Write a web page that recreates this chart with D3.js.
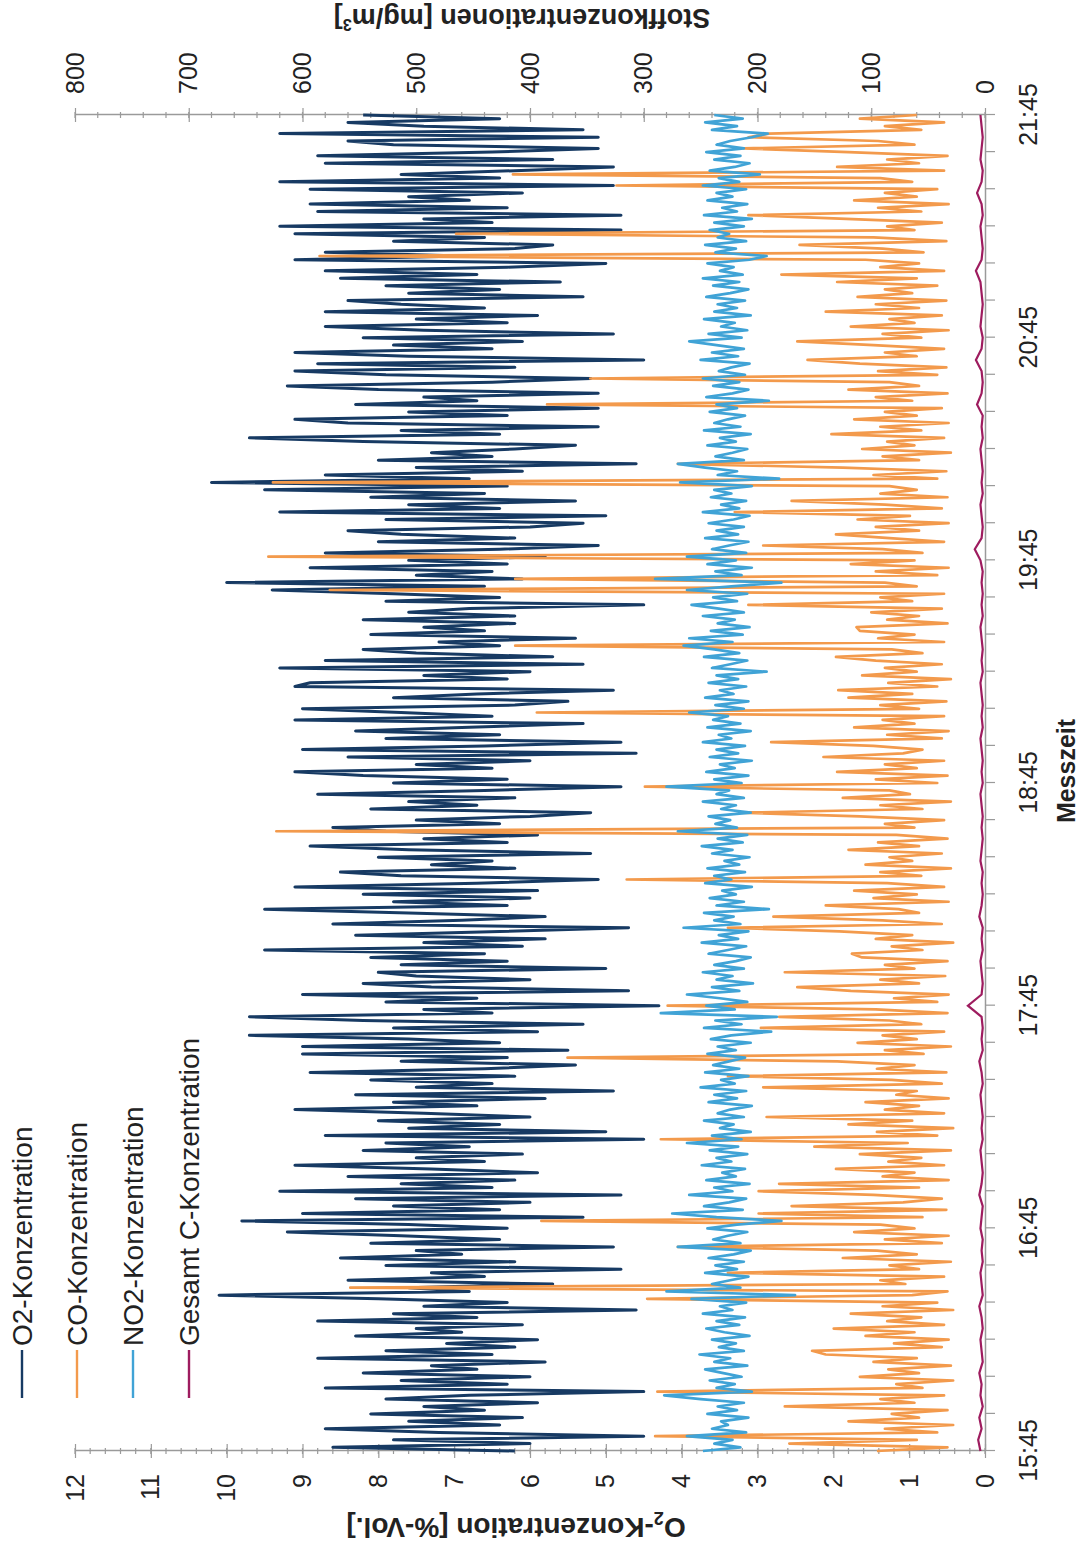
<!DOCTYPE html>
<html>
<head>
<meta charset="utf-8">
<script src="https://cdn.jsdelivr.net/npm/d3@7"></script>
<style>
  body { margin: 0; background: #fff; }
  text { font-family: "Liberation Sans", Arial, sans-serif; fill: #222; }
</style>
</head>
<body>
<svg id="chart" width="1083" height="1546"></svg>
<script>
// measurement start and sampling step (one value per minute)
const startTime = "15:45";
const endTime = "21:45";
const stepMinutes = 1;
const cStepMinutes = 3;

// O2 in %-Vol. (left axis)
const o2Values = [
  6.2,8.6,6.0,7.8,4.5,7.2,8.7,6.4,7.6,6.1,
  8.1,6.6,7.4,5.9,7.9,6.8,4.5,8.7,6.3,7.7,
  6.0,8.2,6.7,7.3,5.8,8.8,6.5,7.9,6.2,7.1,
  5.9,8.3,6.9,7.5,6.1,8.8,6.7,7.8,4.6,7.4,
  6.3,8.0,10.1,6.8,7.6,5.7,8.4,6.6,7.3,4.8,
  7.9,6.2,8.5,6.9,7.5,4.9,8.1,6.4,7.7,9.2,
  6.3,7.6,9.8,5.3,9.0,6.4,7.8,6.0,8.3,4.8,
  9.3,6.5,7.7,6.2,8.4,5.9,7.3,9.1,6.6,7.5,
  6.1,8.2,6.8,7.9,4.5,8.7,5.0,7.6,6.4,8.0,
  6.0,7.4,9.1,6.7,7.8,5.8,8.3,4.9,7.5,6.5,
  8.1,6.2,8.9,6.6,5.4,7.7,6.3,9.0,5.5,9.0,
  6.4,7.6,9.7,5.9,7.8,5.3,8.2,9.7,6.5,7.4,
  4.3,7.9,6.7,9.0,4.7,7.3,8.2,6.0,7.5,8.0,
  5.0,7.7,6.3,8.1,6.6,9.5,6.1,7.4,5.8,8.3,
  6.4,4.7,8.6,6.9,5.8,7.6,9.5,6.3,7.8,6.0,
  8.2,5.9,9.1,6.7,5.1,7.7,8.5,6.2,7.3,6.5,
  8.0,5.2,7.6,8.9,6.3,7.4,5.9,7.9,8.6,6.4,
  7.5,6.0,5.2,8.1,6.7,7.6,6.2,8.8,6.6,4.8,
  7.8,6.3,8.2,9.1,6.5,7.5,6.0,8.4,4.6,9.0,
  6.6,4.8,7.9,6.4,8.3,6.8,5.3,9.1,6.5,7.7,
  9.0,6.2,5.5,7.8,6.7,4.9,9.1,8.9,6.3,7.4,
  6.0,9.3,5.3,8.7,5.7,7.5,8.2,6.4,7.2,5.4,
  8.1,6.6,7.4,6.2,8.2,6.2,7.6,6.8,4.5,7.9,
  6.4,7.8,9.4,6.6,10.0,6.1,7.5,6.5,8.9,6.3,
  7.6,5.8,8.7,6.4,5.1,8.0,6.2,7.7,8.4,6.0,
  5.3,7.9,5.0,9.3,6.4,7.6,5.4,8.1,6.6,9.5,
  6.3,10.2,6.8,8.7,6.1,7.5,4.6,8.0,6.5,7.3,
  6.2,5.4,8.2,9.7,6.4,7.7,5.1,8.4,9.1,6.3,
  7.6,5.1,8.3,6.7,7.4,5.1,8.0,9.2,6.5,5.2,
  7.9,9.1,6.2,8.8,4.5,7.6,9.1,6.5,7.8,6.1,
  8.2,4.9,7.4,8.7,6.3,7.5,5.9,8.7,6.6,7.7,
  8.4,5.3,7.6,6.4,7.9,5.6,8.5,6.7,8.7,6.3,
  5.0,9.1,6.9,8.7,6.2,5.7,7.8,6.6,9.1,4.8,
  9.3,6.5,7.4,4.8,8.8,6.3,8.9,6.8,7.6,6.1,
  8.9,4.9,9.3,6.4,7.7,6.2,4.9,8.7,5.7,8.8,
  6.5,5.1,7.8,8.4,5.1,9.3,5.3,7.4,8.4,6.4,
  8.2
];

// CO in mg/m3 (right axis)
const coValues = [
  95,33,172,60,290,42,88,28,120,58,
  82,33,176,62,92,36,288,55,78,28,
  110,58,85,30,98,60,140,152,38,80,
  32,105,62,133,36,86,56,118,28,90,
  42,297,64,33,558,70,92,36,226,58,
  84,30,125,60,95,270,38,88,32,115,
  62,92,390,55,199,34,170,72,38,98,
  199,58,181,32,90,62,131,36,85,56,
  110,30,150,68,285,42,95,28,120,64,
  192,36,88,58,105,32,78,60,195,38,
  82,226,34,95,62,130,367,54,88,30,
  112,60,90,36,197,56,84,181,33,96,
  279,42,80,32,118,165,58,92,35,176,
  62,88,33,108,117,55,82,28,96,64,
  128,226,38,90,186,58,76,140,32,98,
  60,115,36,86,315,56,92,30,105,64,
  84,38,120,58,94,33,78,623,62,88,
  36,110,215,55,92,30,125,66,84,299,
  42,96,33,130,60,88,36,142,72,55,
  98,188,38,86,32,115,62,90,36,394,
  58,92,34,120,64,129,42,85,30,108,
  60,88,38,96,131,55,82,413,36,94,
  62,110,113,33,86,58,100,38,208,64,
  92,36,576,60,88,413,42,96,32,118,
  62,630,55,90,195,36,84,131,58,96,
  32,112,66,220,38,88,170,33,92,60,
  84,626,42,98,34,125,270,58,90,30,
  108,62,86,36,135,56,92,32,115,60,
  88,38,385,64,96,33,120,58,84,347,
  42,94,34,110,156,60,88,36,98,165,
  56,90,32,118,62,84,38,140,58,96,
  34,112,64,88,42,130,60,179,36,92,
  58,105,585,54,90,163,34,98,465,62,
  86,38,122,208,56,94,32,115,60,88,
  42,324,64,92,415,36,130,58,86,33,
  120,212,62,94,208,190,56,88,36,110,
  60
];

// NO2 in mg/m3 (right axis)
const no2Values = [
  248,215,238,222,262,210,240,226,232,208,
  244,218,235,212,250,282,205,236,220,242,
  214,230,246,209,238,224,251,212,234,219,
  240,207,229,245,216,236,211,248,222,233,
  210,258,167,280,215,240,224,208,246,218,
  237,212,243,221,206,270,215,239,226,209,
  244,218,179,236,275,213,247,225,210,260,
  222,238,207,245,219,231,211,249,223,236,
  209,242,217,262,214,240,206,233,221,247,
  212,235,224,205,243,218,238,210,250,220,
  232,208,246,216,239,225,211,244,219,235,
  206,241,223,188,247,214,237,183,285,220,
  245,209,233,262,216,240,204,236,222,248,
  212,238,219,206,243,226,210,249,217,234,
  208,265,215,238,221,247,190,236,212,242,
  219,231,205,246,223,238,211,244,216,229,
  207,240,222,249,213,235,209,270,218,237,
  224,243,206,232,219,248,212,236,225,280,
  214,238,208,245,220,233,205,242,217,236,
  211,248,223,234,206,244,215,239,226,260,
  212,237,208,246,221,233,210,243,217,236,
  192,240,224,209,247,216,238,265,222,260,
  213,241,207,235,220,248,212,234,258,218,
  239,209,262,223,179,290,214,237,205,244,
  219,262,210,240,225,208,246,217,236,212,
  243,221,207,248,216,232,210,241,223,238,
  205,268,181,235,218,246,270,212,237,222,
  209,244,219,233,206,247,215,238,226,211,
  242,218,236,190,245,222,208,239,216,248,
  211,234,223,207,250,217,240,212,236,260,
  214,243,209,232,220,247,206,238,218,235,
  211,245,224,208,239,216,248,213,233,221,
  244,207,192,237,219,246,210,235,225,242,
  212,238,205,247,218,231,209,244,222,236,
  210,248,216,234,198,242,220,207,238,215,
  245,212,236,224,205,191,240,218,246,213,
  238
];

// Gesamt C in mg/m3 (right axis), every 3 minutes
const cValues = [
  4,6,3,5,2,4,3,5,2,3,
  4,2,3,5,2,3,4,2,3,2,
  4,3,2,5,3,2,3,4,2,3,
  2,3,4,2,3,5,2,3,2,3,
  15,3,2,3,4,2,3,2,5,3,
  2,3,2,4,3,2,3,2,3,4,
  2,3,2,3,4,2,3,2,3,4,
  2,3,2,3,4,2,3,2,3,2,
  4,9,3,2,3,4,2,3,2,3,
  4,2,3,2,7,3,2,3,8,3,
  2,4,3,2,3,4,8,3,2,3,
  4,2,3,7,3,2,4,3,2,3,
  4
];

const o2Ticks = [0,1,2,3,4,5,6,7,8,9,10,11,12];
const stoffTicks = [0,100,200,300,400,500,600,700,800];
const seriesNames = ["O2-Konzentration", "CO-Konzentration", "NO2-Konzentration", "Gesamt C-Konzentration"];
const seriesColors = ["#173a63", "#f39a4c", "#40a3d6", "#9e1c5f"];

const parse = d3.timeParse("%H:%M");
const fmt = d3.timeFormat("%H:%M");
const t0 = parse(startTime);
const t1 = parse(endTime);

const svg = d3.select("#chart");
// the chart is photographed turned a quarter turn, so draw it upright and rotate the group
const g = svg.append("g").attr("transform", "translate(0,1546) rotate(-90)");

const x = d3.scaleTime().domain([t0, t1]).range([95, 1431]);
const yO2 = d3.scaleLinear().domain([0, 12]).range([985, 75]);
const yS = d3.scaleLinear().domain([0, 800]).range([985, 75]);

const axisColor = "#9a9a9a";
const labelSize = 25;

// time axis
const timeTicks = d3.range(0, 361, 10).map(m => d3.timeMinute.offset(t0, m));
const xAxis = g.append("g")
  .attr("transform", `translate(0,${yS(0)})`)
  .call(d3.axisBottom(x).tickValues(timeTicks).tickSize(10).tickSizeOuter(0).tickPadding(24)
    .tickFormat(d => d.getMinutes() === 45 ? fmt(d) : ""));

// left axis O2
const yAxisL = g.append("g")
  .attr("transform", `translate(${x(t0)},0)`)
  .call(d3.axisLeft(yO2).tickValues(o2Ticks).tickSize(7).tickSizeOuter(0).tickPadding(16));
yAxisL.selectAll(".tick line").attr("x1", 7);
yAxisL.selectAll(".minor").data(d3.range(0, 12.01, 0.2))
  .join("line").attr("class", "minor")
  .attr("x1", -3).attr("x2", 3)
  .attr("y1", d => yO2(d)).attr("y2", d => yO2(d));

// right axis Stoffkonzentrationen
const yAxisR = g.append("g")
  .attr("transform", `translate(${x(t1)},0)`)
  .call(d3.axisRight(yS).tickValues(stoffTicks).tickSize(7).tickSizeOuter(0).tickPadding(14));
yAxisR.selectAll(".tick line").attr("x1", -7);
yAxisR.selectAll(".minor").data(d3.range(0, 801, 20))
  .join("line").attr("class", "minor")
  .attr("x1", -3).attr("x2", 3)
  .attr("y1", d => yS(d)).attr("y2", d => yS(d));

[xAxis, yAxisL, yAxisR].forEach(a => {
  a.select(".domain").attr("stroke", axisColor).attr("stroke-width", 1.5);
  a.selectAll("line").attr("stroke", axisColor).attr("stroke-width", 1.2);
  a.selectAll("text").attr("font-size", labelSize).attr("fill", "#222")
    .style("font-family", '"Liberation Sans", Arial, sans-serif');
});

// series
const minuteTime = i => d3.timeMinute.offset(t0, i * stepMinutes);
const lineO2 = d3.line().x((d, i) => x(minuteTime(i))).y(d => yO2(d));
const lineS = d3.line().x((d, i) => x(minuteTime(i))).y(d => yS(d));
const lineC = d3.line().x((d, i) => x(d3.timeMinute.offset(t0, i * cStepMinutes))).y(d => yS(d));

g.append("path").datum(o2Values).attr("d", lineO2)
  .attr("fill", "none").attr("stroke", seriesColors[0]).attr("stroke-width", 3)
  .attr("stroke-linejoin", "round");
g.append("path").datum(coValues).attr("d", lineS)
  .attr("fill", "none").attr("stroke", seriesColors[1]).attr("stroke-width", 2.7)
  .attr("stroke-linejoin", "round");
g.append("path").datum(no2Values).attr("d", lineS)
  .attr("fill", "none").attr("stroke", seriesColors[2]).attr("stroke-width", 2.7)
  .attr("stroke-linejoin", "round");
g.append("path").datum(cValues).attr("d", lineC)
  .attr("fill", "none").attr("stroke", seriesColors[3]).attr("stroke-width", 2.2);

// axis titles
const o2Title = g.append("text")
  .attr("transform", "translate(28,516) rotate(-90)")
  .attr("text-anchor", "middle").attr("font-size", 28).attr("font-weight", "bold");
o2Title.append("tspan").text("O");
o2Title.append("tspan").text("2").attr("font-size", 18).attr("dy", 6);
o2Title.append("tspan").text("-Konzentration [%-Vol.]").attr("dy", -6);

const sTitle = g.append("text")
  .attr("transform", "translate(1537,522) rotate(-90)")
  .attr("text-anchor", "middle").attr("font-size", 27).attr("font-weight", "bold");
sTitle.append("tspan").text("Stoffkonzentrationen [mg/m");
sTitle.append("tspan").text("3").attr("font-size", 16).attr("dy", -10);
sTitle.append("tspan").text("]").attr("dy", 10);

g.append("text")
  .attr("x", 775).attr("y", 1075)
  .attr("text-anchor", "middle").attr("font-size", 25).attr("font-weight", "bold")
  .text("Messzeit");

// legend
const legend = g.append("g");
const legendRows = [22, 77, 133, 189];
seriesNames.forEach((name, i) => {
  const row = legend.append("g").attr("transform", `translate(0,${legendRows[i]})`);
  row.append("line").attr("x1", 148).attr("x2", 196).attr("y1", 0).attr("y2", 0)
    .attr("stroke", seriesColors[i]).attr("stroke-width", 2.4);
  row.append("text").attr("x", 200).attr("y", 0).attr("dy", "0.35em")
    .attr("font-size", 28).text(name);
});
</script>
</body>
</html>
